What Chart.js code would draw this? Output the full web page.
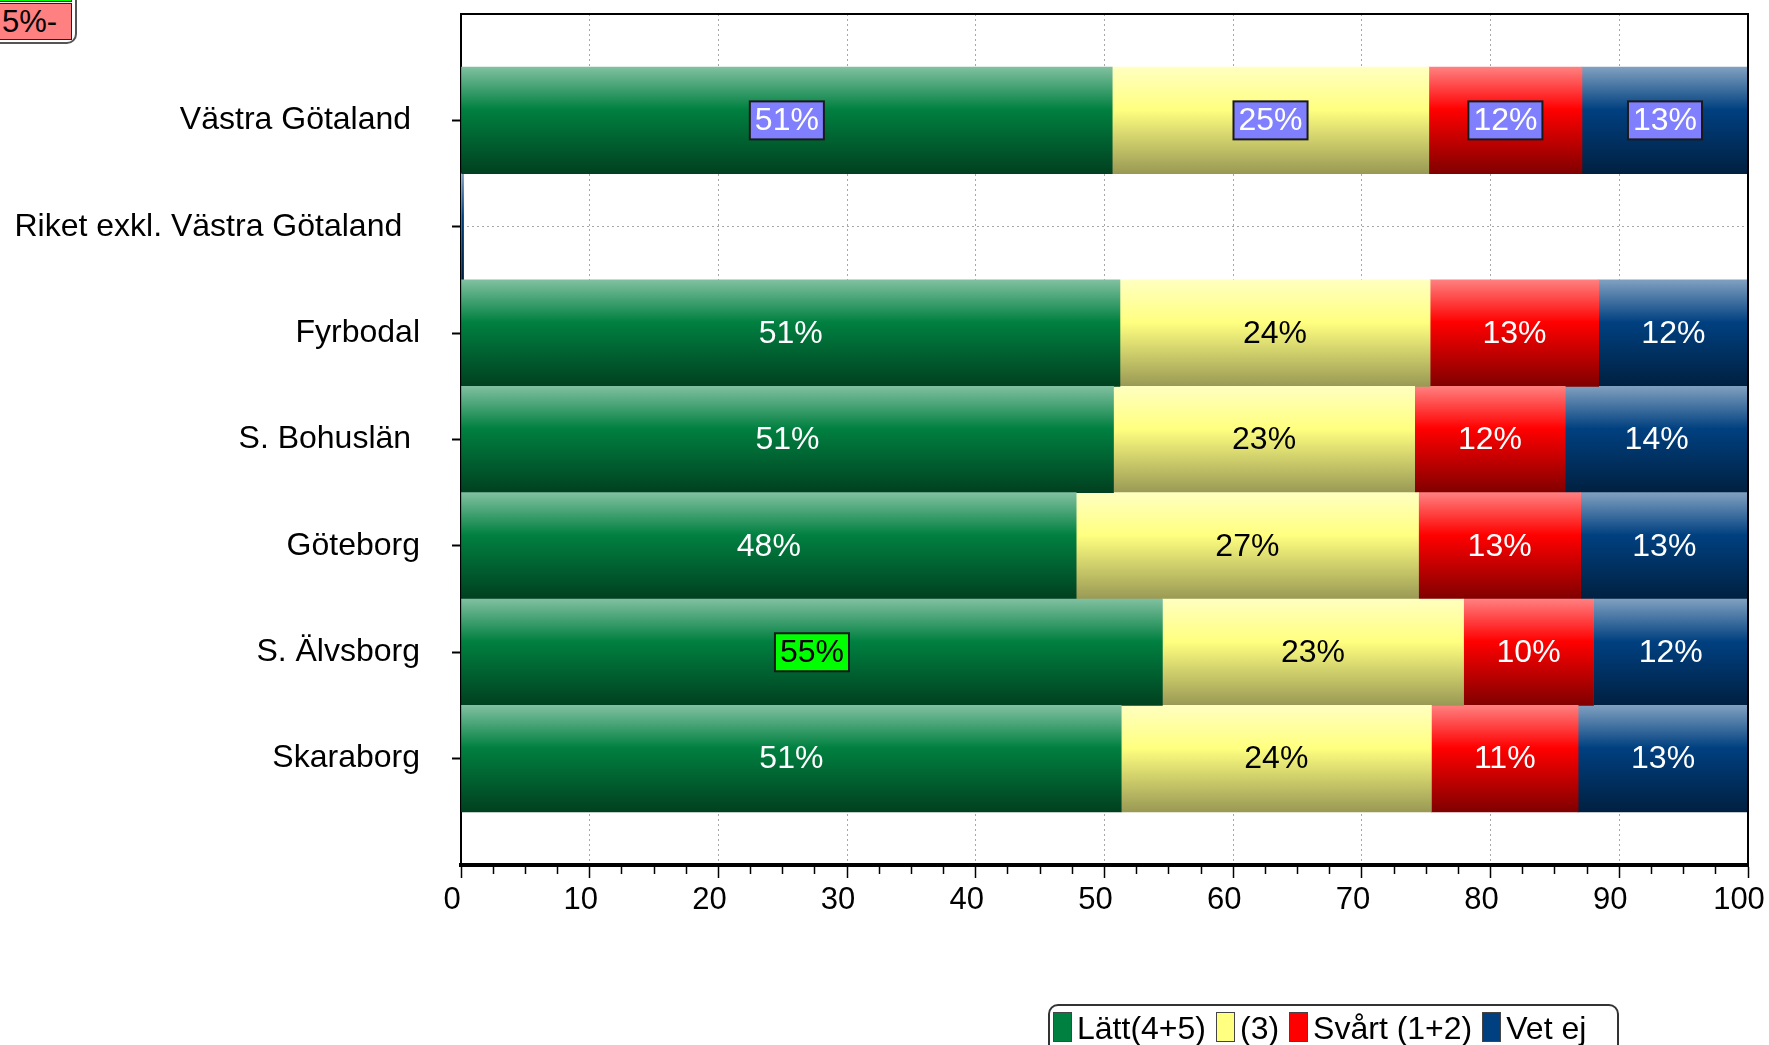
<!DOCTYPE html>
<html>
<head>
<meta charset="utf-8">
<script src="https://cdn.jsdelivr.net/npm/chart.js@4.4.0/dist/chart.umd.min.js"></script>
<style>
  html, body { margin: 0; padding: 0; background: #fff; overflow: hidden; }
  #wrap { position: relative; width: 1769px; height: 1045px; font-family: "Liberation Sans", Arial, sans-serif; }
  #c { position: absolute; left: 0; top: 0; }
  #keyFrame { position: absolute; left: -12px; top: -40px; width: 89px; height: 84px; border: 2px solid #555; border-radius: 10px; box-sizing: border-box; }
  #keyPlus { position: absolute; left: -2px; top: -30px; width: 74px; height: 32px; background: #00ff00; border: 1px solid #222; box-sizing: border-box; }
  #keyMinus { position: absolute; left: -2px; top: 3px; width: 74px; height: 37px; background: #ff8080; border: 1px solid #222; box-sizing: border-box; font-size: 31px; line-height: 35px; padding-left: 3px; color: #000; }
  #legend { position: absolute; left: 1048px; top: 1004px; width: 571px; height: 70px; border: 2px solid #333; border-radius: 10px; box-sizing: border-box; display: flex; align-items: flex-start; padding: 6px 0 0 3px; font-size: 32px; line-height: 32px; }
  #legend .sw { width: 19px; height: 30px; border: 1px solid #444; box-sizing: border-box; margin-right: 5px; flex: none; }
  #legend .tx { margin-right: 10px; white-space: pre; }
</style>
</head>
<body>
<div id="wrap">
  <canvas id="c" width="1769" height="1045"></canvas>
  <div id="keyFrame"></div>
  <div id="keyPlus"></div>
  <div id="keyMinus">5%-</div>
  <div id="legend"></div>
</div>
<script>
const categories = ['Västra Götaland ', 'Riket exkl. Västra Götaland  ', 'Fyrbodal', 'S. Bohuslän ', 'Göteborg', 'S. Älvsborg', 'Skaraborg']
const seriesNames = ['Lätt(4+5)', '(3)', 'Svårt (1+2)', 'Vet ej']
const latt = [50.6, 0, 51.2, 50.7, 47.8, 54.5, 51.3]
const mitt = [24.6, 0, 24.1, 23.4, 26.6, 23.4, 24.1]
const svart = [11.9, 0, 13.1, 11.7, 12.6, 10.1, 11.4]
const vetEj = [12.9, 0.2, 11.6, 14.2, 13.0, 12.0, 13.2]
const xTicks = [0, 10, 20, 30, 40, 50, 60, 70, 80, 90, 100]

const FONT = '"Liberation Sans", Arial, sans-serif'

// top, middle, bottom shades of each series
const shades = [
  ['#80c0a0', '#008040', '#004020'],
  ['#ffffc0', '#ffff80', '#999955'],
  ['#ff8080', '#ff0000', '#800000'],
  ['#80a0c0', '#004080', '#002040'],
]

// rows whose labels sit in a coloured box
const boxed = {
  'Västra Götaland ': { fill: '#8080ff', text: '#ffffff', series: [0, 1, 2, 3] },
  'S. Älvsborg': { fill: '#00ff00', text: '#000000', series: [0] },
}

const labels = ['', ...categories, '']
const pad = (arr) => [null, ...arr, null]

function shade(i) {
  return (ctx) => {
    const chart = ctx.chart
    const ys = chart.scales.y
    if (!chart.chartArea || !ys) return shades[i][1]
    const c = ys.getPixelForValue(ctx.dataIndex)
    const half = (ys.getPixelForValue(1) - ys.getPixelForValue(0)) / 2
    const g = chart.ctx.createLinearGradient(0, c - half, 0, c + half)
    g.addColorStop(0, shades[i][0])
    g.addColorStop(0.4, shades[i][1])
    g.addColorStop(1, shades[i][2])
    return g
  }
}

const frame = {
  id: 'frame',
  afterDatasetsDraw(chart) {
    const { ctx, chartArea: a } = chart
    ctx.save()
    ctx.strokeStyle = '#000'
    ctx.lineWidth = 2
    ctx.beginPath()
    ctx.moveTo(a.left, a.top)
    ctx.lineTo(a.right, a.top)
    ctx.lineTo(a.right, a.bottom)
    ctx.stroke()
    ctx.restore()
  },
}

const valueLabels = {
  id: 'valueLabels',
  afterDraw(chart) {
    const ctx = chart.ctx
    ctx.save()
    ctx.font = '32px ' + FONT
    ctx.textAlign = 'center'
    ctx.textBaseline = 'middle'
    chart.data.datasets.forEach((ds, di) => {
      chart.getDatasetMeta(di).data.forEach((bar, i) => {
        const v = ds.data[i]
        if (v == null || v < 1) return
        const txt = Math.round(v) + '%'
        const x = (bar.x + bar.base) / 2
        const y = bar.y
        const box = boxed[chart.data.labels[i]]
        if (box && box.series.includes(di)) {
          const w = ctx.measureText(txt).width + 10
          ctx.fillStyle = box.fill
          ctx.fillRect(x - w / 2, y - 19, w, 38)
          ctx.strokeStyle = '#1a1a1a'
          ctx.lineWidth = 2
          ctx.strokeRect(x - w / 2, y - 19, w, 38)
          ctx.fillStyle = box.text
        } else {
          ctx.fillStyle = di === 1 ? '#000' : '#fff'
        }
        ctx.fillText(txt, x, y + 1)
      })
    })
    ctx.restore()
  },
}

const chart = new Chart(document.getElementById('c'), {
  type: 'bar',
  data: {
    labels: labels,
    datasets: [latt, mitt, svart, vetEj].map((d, i) => ({
      label: seriesNames[i],
      data: pad(d),
      backgroundColor: shade(i),
      borderWidth: 0,
      categoryPercentage: 1,
      barPercentage: 1,
    })),
  },
  options: {
    indexAxis: 'y',
    responsive: false,
    animation: false,
    layout: { padding: { left: 0, top: 14, right: 21, bottom: 125 } },
    plugins: { legend: { display: false }, tooltip: { enabled: false } },
    scales: {
      x: {
        type: 'linear',
        stacked: true,
        min: 0,
        max: 100,
        ticks: {
          stepSize: 2.5,
          autoSkip: false,
          maxRotation: 0,
          padding: 4,
          labelOffset: -9,
          color: '#000',
          font: { size: 31, family: FONT },
          callback: (v) => (xTicks.includes(v) ? v : ''),
        },
        grid: {
          color: (c) => (c.tick && xTicks.includes(c.tick.value) ? '#a8a8a8' : 'rgba(0,0,0,0)'),
          tickColor: '#000',
          tickLength: 13,
          tickWidth: 1.5,
          tickBorderDash: (c) => (c.tick && xTicks.includes(c.tick.value) ? [] : [7, 100]),
        },
        border: { color: '#000', width: 4, dash: [2, 3] },
        afterFit: (s) => {
          s.height = 55
          s.paddingLeft = 0
          s.paddingRight = 0
        },
      },
      y: {
        type: 'category',
        stacked: true,
        offset: false,
        ticks: { autoSkip: false, padding: 32, color: '#000', font: { size: 32, family: FONT } },
        grid: {
          offset: false,
          color: '#a8a8a8',
          tickColor: (c) => (c.index === 0 || c.index === labels.length - 1 ? 'rgba(0,0,0,0)' : '#000'),
          tickLength: 9,
          tickWidth: 2,
        },
        border: { color: '#000', width: 2, dash: [2, 3] },
        afterFit: (s) => {
          s.width = 461
          s.paddingTop = 0
          s.paddingBottom = 0
        },
      },
    },
  },
  plugins: [frame, valueLabels],
})

// html legend built from the datasets
const legend = document.getElementById('legend')
chart.data.datasets.forEach((ds, i) => {
  const sw = document.createElement('span')
  sw.className = 'sw'
  sw.style.background = shades[i][1]
  const tx = document.createElement('span')
  tx.className = 'tx'
  tx.textContent = ds.label
  legend.appendChild(sw)
  legend.appendChild(tx)
})
</script>
</body>
</html>
